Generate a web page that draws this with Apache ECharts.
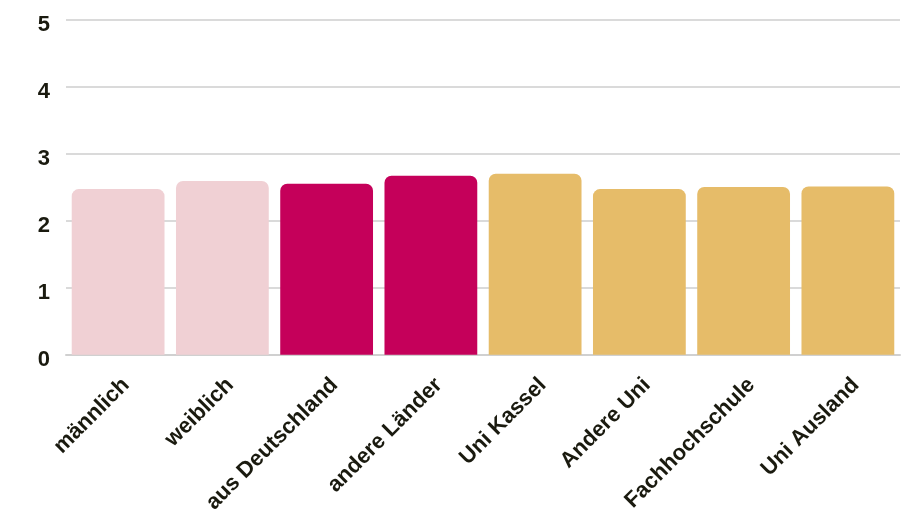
<!DOCTYPE html>
<html>
<head>
<meta charset="utf-8">
<script src="https://cdn.jsdelivr.net/npm/echarts@6/dist/echarts.min.js"></script>
<style>html,body{margin:0;padding:0;background:#fff}#c{width:913px;height:516px}</style>
</head>
<body>
<div id="c"></div>
<script>
const categories = ['männlich','weiblich','aus Deutschland','andere Länder','Uni Kassel','Andere Uni','Fachhochschule','Uni Ausland'];
const values = [2.47, 2.59, 2.55, 2.67, 2.70, 2.47, 2.50, 2.51];
const barColors = ['#f0d0d4','#f0d0d4','#c5005a','#c5005a','#e6bc69','#e6bc69','#e6bc69','#e6bc69'];
const yTicks = [0,1,2,3,4,5];

const labelFont = {color:'#1a1a0f', fontSize:22, fontWeight:'bold', fontFamily:'Liberation Sans, Arial, sans-serif'};
const chart = echarts.init(document.getElementById('c'), null, {renderer:'canvas'});
chart.setOption({
  animation:false,
  grid:{left:66, right:13, top:19.3, bottom:160.7, containLabel:false},
  xAxis:{
    type:'category', data:categories,
    axisLine:{lineStyle:{color:'#d0d0d0', width:2}},
    axisTick:{show:false},
    axisLabel:Object.assign({rotate:45, interval:0, margin:19, verticalAlign:'top'}, labelFont)
  },
  yAxis:{
    type:'value', min:0, max:5, interval:1,
    axisLine:{show:false}, axisTick:{show:false},
    splitLine:{lineStyle:{color:'#dadada', width:2}},
    axisLabel:Object.assign({margin:16,
      formatter:v=>yTicks.includes(v)?'{a|'+v+'}':'',
      rich:{a:Object.assign({padding:[11,0,0,0]}, labelFont)}
    }, labelFont)
  },
  series:[{
    type:'bar', barCategoryGap:'11%',
    data: values.map((v,i)=>({value:v, itemStyle:{color:barColors[i]}})),
    itemStyle:{borderRadius:[7,7,0,0]}
  }]
});
</script>
</body>
</html>
